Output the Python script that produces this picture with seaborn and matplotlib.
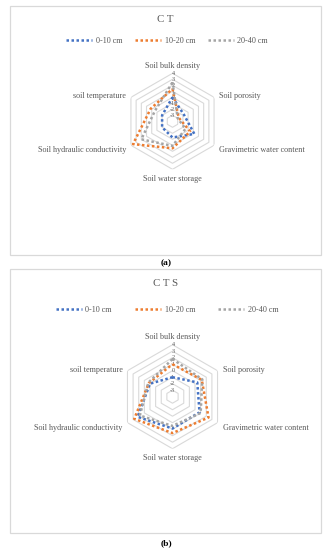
import matplotlib
matplotlib.use("Agg")

import matplotlib.pyplot as plt
import numpy as np
import pandas as pd
import seaborn as sns
from matplotlib.patches import Rectangle


# Radar axes (clockwise from the top)
categories = [
    "Soil bulk density",
    "Soil porosity",
    "Gravimetric water content",
    "Soil water storage",
    "Soil hydraulic conductivity",
    "soil temperature",
]
depths = ["0-10 cm", "10-20 cm", "20-40 cm"]

# Panel (a) CT
ct_0_10 = [0.0, -1.8, 0.2, -1.3, -2.0, -2.0]
ct_10_20 = [1.4, -2.8, -0.6, 0.5, 3.6, 0.2]
ct_20_40 = [2.5, -3.0, -1.5, 0.1, 2.0, -0.6]

# Panel (b) CTS
cts_0_10 = [-1.0, 0.4, 0.8, 0.9, 2.2, 0.0]
cts_10_20 = [1.0, 1.2, 2.4, 1.6, 2.8, 0.2]
cts_20_40 = [1.8, 1.3, 1.0, 0.5, 1.8, 0.3]

r_ticks = [-3, -2, -1, 0, 1, 2, 3, 4]
r_min = -4
r_max = 4

colors = ["#4472C4", "#ED7D31", "#A5A5A5"]
text_gray = "#595959"
grid_gray = "#D9D9D9"

sns.set_theme(style="white")
plt.rcParams["font.family"] = ["Liberation Serif", "DejaVu Serif"]

W, H = 331, 550
fig = plt.figure(figsize=(W / 100, H / 100), dpi=100)

angles = np.linspace(0, 2 * np.pi, len(categories), endpoint=False)
angles_closed = np.append(angles, angles[0])

# label placement per axis: (dx pt, dy pt, ha, va)
label_pos = [
    (0, 2.5, "center", "bottom"),
    (3.6, 0.8, "left", "center"),
    (3.6, -3.5, "left", "center"),
    (0, -4.0, "center", "top"),
    (-3.6, -3.5, "right", "center"),
    (-3.6, 0.8, "right", "center"),
]


def draw_panel(series, title, cx, cy, R, box, title_y, legend_y, colspace, tag, tag_y):
    # panel frame
    x0, y0, x1, y1 = box
    fig.patches.append(Rectangle(
        (x0 / W, 1 - y1 / H), (x1 - x0) / W, (y1 - y0) / H,
        transform=fig.transFigure, fill=False,
        edgecolor=grid_gray, linewidth=0.9
    ))

    ax = fig.add_axes([(cx - R) / W, 1 - (cy + R) / H, 2 * R / W, 2 * R / H],
                      projection="polar")
    ax.set_theta_offset(np.pi / 2)
    ax.set_theta_direction(-1)
    ax.set_ylim(r_min, r_max)
    ax.grid(False)
    ax.spines["polar"].set_visible(False)
    ax.set_xticks([])
    ax.set_yticks([])
    ax.patch.set_alpha(0)

    # hexagonal gridlines
    for level in r_ticks:
        ax.plot(angles_closed, [level] * len(angles_closed),
                color=grid_gray, linewidth=0.8, zorder=1)

    # radial tick labels along the top axis
    for level in r_ticks:
        ax.annotate(str(level), xy=(0, level), xytext=(1.4, 0),
                    textcoords="offset points", ha="right", va="center",
                    fontsize=4.4, color=text_gray)

    # category labels
    for ang, cat, (dx, dy, ha, va) in zip(angles, categories, label_pos):
        ax.annotate(cat, xy=(ang, r_max), xytext=(dx, dy),
                    textcoords="offset points", ha=ha, va=va,
                    fontsize=5.9, color=text_gray, annotation_clip=False)

    # data series
    for vals, depth, color in zip(series, depths, colors):
        df = pd.DataFrame({
            "angle": angles_closed,
            "value": list(vals) + [vals[0]],
        })
        sns.lineplot(data=df, x="angle", y="value", ax=ax, sort=False,
                     estimator=None, color=color, linewidth=1.8,
                     linestyle=(0, (1, 1)), label=depth, zorder=3)

    ax.set_xlabel("")
    ax.set_ylabel("")

    handles, labels = ax.get_legend_handles_labels()
    ax.legend(handles, labels, loc="center",
              bbox_to_anchor=(0.505, 1 - legend_y / H),
              bbox_transform=fig.transFigure, ncol=3, frameon=False,
              fontsize=5.9, handlelength=3.2, handletextpad=0.45,
              columnspacing=colspace, labelcolor=text_gray)

    fig.text(0.5, 1 - title_y / H, title, ha="center", va="center",
             fontsize=7.8, color=text_gray)
    fig.text(0.503, 1 - tag_y / H, tag, ha="center", va="center",
             fontsize=6.8, fontweight="bold", color="black")


draw_panel([ct_0_10, ct_10_20, ct_20_40], "C T",
           172.5, 121.3, 48, (10, 6, 321, 255), 20, 41, 1.5, "(a)", 263)

draw_panel([cts_0_10, cts_10_20, cts_20_40], "C T S",
           172.5, 396.7, 52, (10, 269, 321, 533), 284, 310, 2.8, "(b)", 543)

fig.savefig("out.png", dpi=100)
